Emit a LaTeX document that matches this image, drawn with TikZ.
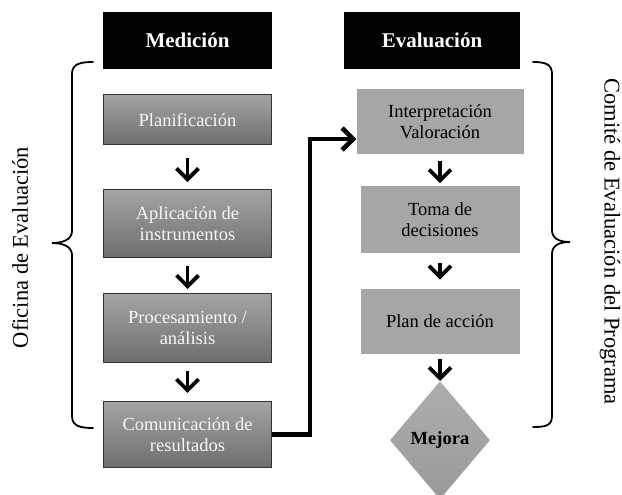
\documentclass[tikz,border=0pt]{standalone}
\usepackage{fontspec}
\setmainfont{Liberation Serif}
\usepackage{xcolor}
\usepackage{tikz}
\usetikzlibrary{arrows.meta,positioning,shapes.geometric}
\definecolor{StageTop}{HTML}{A4A4A4}
\definecolor{StageBottom}{HTML}{6E6E6E}
\definecolor{StageRule}{HTML}{333333}
\definecolor{ReviewFill}{HTML}{A6A6A6}
\definecolor{GoalTop}{HTML}{AEAEAE}
\definecolor{GoalBottom}{HTML}{999999}

\begin{document}
\begin{tikzpicture}[x=1pt,y=-1pt,
  header/.style={fill=black,text=white,inner sep=0pt,minimum width=#1,minimum height=57pt,font=\fontsize{21}{24}\selectfont\bfseries},
  stage/.style={draw=StageRule,line width=0.9pt,top color=StageTop,bottom color=StageBottom,text=white!94!gray,inner sep=0pt,minimum width=168pt,minimum height=#1,align=center,font=\fontsize{18.5}{21}\selectfont},
  review/.style={fill=ReviewFill,inner sep=0pt,minimum width=159pt,minimum height=#1,align=center,font=\fontsize{18.5}{21}\selectfont},
  goal/.style={diamond,top color=GoalTop,bottom color=GoalBottom,inner sep=0pt,minimum width=100pt,minimum height=118pt,font=\fontsize{18.5}{21}\selectfont\bfseries},
  flow/.style={-{Straight Barb[length=11pt,width=22pt]},line width=3.8pt},
  handoff/.style={-{Straight Barb[length=11pt,width=22pt]},line width=4.5pt},
  brace/.style={line width=1.8pt,line cap=round},
  side/.style={font=\fontsize{22.5}{25}\selectfont}
]
\useasboundingbox (0,0) rectangle (622,495);
% cabeceras
\node[header=169pt] (med) at (187.5,40.5) {Medición};
\node[header=176pt] (eva) at (432,40.5) {Evaluación};
% medicion
\node[stage=50pt,below=25pt of med] (plan) {Planificación};
\node[stage=68pt,below=44pt of plan] (apl) {Aplicación de\\instrumentos};
\node[stage=69pt,below=35pt of apl] (proc) {Procesamiento /\\análisis};
\node[stage=66pt,below=38pt of proc] (com) {Comunicación de\\resultados};
% evaluacion
\node[review=65pt,minimum width=167pt] (interp) at (440,121.5) {Interpretación\\Valoración};
\node[review=67pt,below=32pt of interp] (toma) {Toma de\\decisiones};
\node[review=65pt,below=35pt of toma] (accion) {Plan de acción};
\node[goal,below=27pt of accion] (mejora) {Mejora};
% flechas
\draw[flow,shorten <=13pt,shorten >=7pt] (plan) -- (apl);
\draw[flow,shorten <=8pt,shorten >=4pt] (apl) -- (proc);
\draw[flow,shorten <=8pt,shorten >=8pt] (proc) -- (com);
\draw[flow,shorten <=7pt,shorten >=3pt] (interp) -- (toma);
\draw[flow,shorten <=9pt,shorten >=9pt] (toma) -- (accion);
\draw[flow,shorten <=5pt] (accion) -- (mejora);
\coordinate (bend) at (310,139);
\draw[handoff,line join=miter] (com.east) -| (bend) -- (bend -| interp.west);
% llaves
\draw[brace] (93,62) .. controls (80,62) and (72,64) .. (72,74) -- (72,231)
  .. controls (72,240) and (62,243) .. (52,243) .. controls (62,243) and (72,246) .. (72,255)
  -- (72,416) .. controls (72,426) and (80,428) .. (93,428);
\draw[brace] (533,62) .. controls (545,62) and (552,64) .. (552,74) -- (552,230)
  .. controls (552,239) and (560,242) .. (570,242) .. controls (560,242) and (552,245) .. (552,254)
  -- (552,416) .. controls (552,426) and (545,427) .. (533,427);
\node[side,rotate=90] (oficina) at (20,247.5) {Oficina de Evaluación};
\node[side,rotate=-90] (comite) at (610,241.5) {Comité de Evaluación del Programa};
\end{tikzpicture}
\end{document}
